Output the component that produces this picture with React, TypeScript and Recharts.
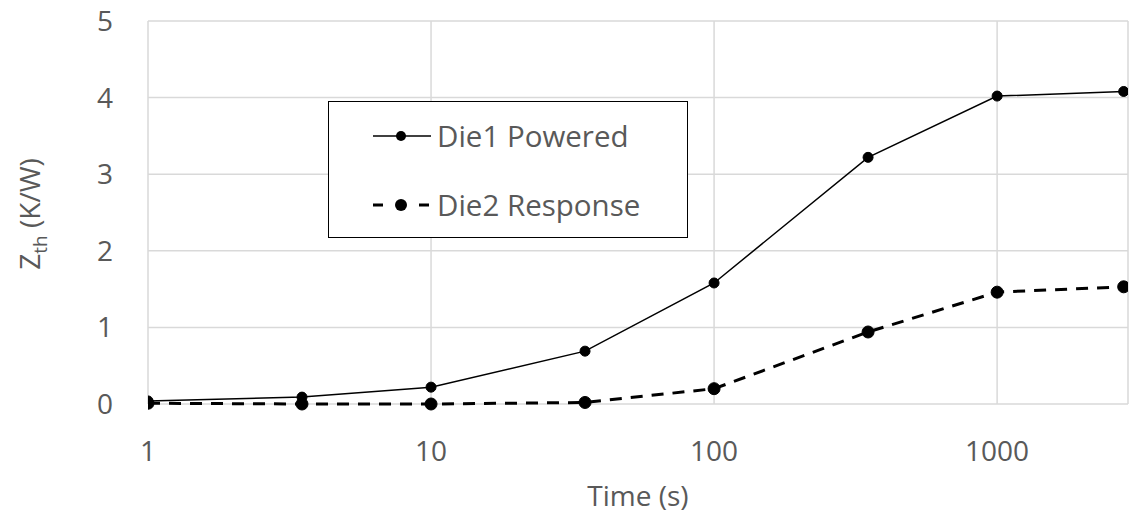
import { LineChart, Line, XAxis, YAxis, CartesianGrid } from 'recharts';

const times = [1, 3.5, 10, 35, 100, 350, 1000, 2800];
const die1Powered = [0.04, 0.09, 0.22, 0.69, 1.58, 3.22, 4.02, 4.08];
const die2Response = [0.01, 0.0, 0.0, 0.02, 0.2, 0.94, 1.46, 1.53];
const xTicks = [1, 10, 100, 1000];
const yTicks = [0, 1, 2, 3, 4, 5];

const data = times.map((t, i) => ({
  time: t,
  die1: die1Powered[i],
  die2: die2Response[i],
}));

const FONT = '"Open Sans", "Liberation Sans", sans-serif';
const GREY = '#595959';

const YLabel = () => (
  <text
    x={0}
    y={0}
    transform="translate(40, 214) rotate(-90)"
    textAnchor="middle"
    fill={GREY}
    fontFamily={FONT}
    fontSize={28}
  >
    Z
    <tspan fontSize={19} dy={7}>th</tspan>
    <tspan dy={-7}> (K/W)</tspan>
  </text>
);

// legend drawn as an overlay box inside the plot, like the original
const LegendBox = () => (
  <div
    style={{
      position: 'absolute',
      left: 328,
      top: 101,
      width: 360,
      height: 137,
      border: '1.5px solid #000',
      background: '#fff',
      boxSizing: 'border-box',
    }}
  >
    <svg width={358} height={134} style={{ position: 'absolute', left: 0, top: 0 }}>
      <line x1={44} x2={102} y1={34} y2={34} stroke="#000" strokeWidth={1.5} />
      <circle cx={72} cy={34} r={5} fill="#000" />
      <line x1={44} x2={102} y1={103} y2={103} stroke="#000" strokeWidth={3} strokeDasharray="10 13" />
      <circle cx={72} cy={103} r={6} fill="#000" />
      <text x={108} y={45} fill={GREY} fontFamily={FONT} fontSize={29.5}>Die1 Powered</text>
      <text x={108} y={114} fill={GREY} fontFamily={FONT} fontSize={29.5}>Die2 Response</text>
    </svg>
  </div>
);

export default function App() {
  return (
    <div style={{ position: 'absolute', left: 0, top: 0, width: 1130, height: 520, background: '#fff' }}>
      <LineChart width={1130} height={520} data={data} margin={{ top: 21, right: 2, left: 0, bottom: 0 }}>
        <CartesianGrid stroke="#d9d9d9" strokeWidth={1.5} />
        <XAxis
          dataKey="time"
          type="number"
          scale="log"
          domain={[1, 2900]}
          ticks={xTicks}
          allowDataOverflow
          axisLine={false}
          tickLine={false}
          tickSize={0}
          tickMargin={37}
          height={116}
          tick={{ fill: GREY, fontSize: 28, fontFamily: FONT }}
          label={{ value: 'Time (s)', position: 'insideBottom', offset: 14, fill: GREY, fontSize: 28, fontFamily: FONT }}
        />
        <YAxis
          type="number"
          domain={[0, 5]}
          ticks={yTicks}
          axisLine={false}
          tickLine={false}
          tickSize={0}
          tickMargin={35}
          width={148}
          tick={{ fill: GREY, fontSize: 28, fontFamily: FONT }}
          label={<YLabel />}
        />
        <Line
          dataKey="die1"
          name="Die1 Powered"
          stroke="#000"
          strokeWidth={1.5}
          dot={{ r: 5, fill: '#000', stroke: '#000', strokeWidth: 1 }}
          isAnimationActive={false}
        />
        <Line
          dataKey="die2"
          name="Die2 Response"
          stroke="#000"
          strokeWidth={3}
          strokeDasharray="12 9"
          dot={{ r: 6, fill: '#000', stroke: '#000', strokeWidth: 1, strokeDasharray: '0' }}
          isAnimationActive={false}
        />
      </LineChart>
      <LegendBox />
    </div>
  );
}
